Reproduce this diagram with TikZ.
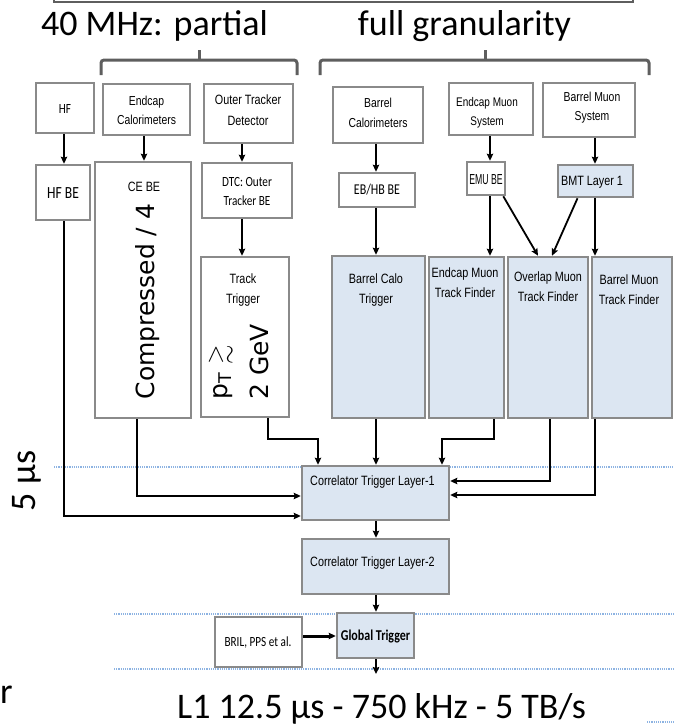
\documentclass[tikz,border=0pt]{standalone}
\usepackage{fontspec}
\usepackage{amssymb}
\usetikzlibrary{arrows.meta,calc}
\setmainfont{Carlito}
\newfontfamily\calibc[FakeStretch=0.8]{Carlito}
\newfontfamily\helvc[FakeStretch=0.8]{Liberation Sans}
\newfontfamily\helvcc[FakeStretch=0.6]{Liberation Sans}
\newfontfamily\dejav{DejaVu Sans}
\definecolor{bordergrey}{HTML}{8A8A8A}
\definecolor{lblue}{HTML}{DCE6F2}
\definecolor{dotblue}{HTML}{8DB3E2}
\definecolor{brgrey}{HTML}{5E5E5E}
\newcommand\mkbox[6]{\node[#6, minimum width={(#4-#2)*1pt}, minimum height={(#5-#3)*1pt}] (#1) at ({(#2+#4)/2},{-(#3+#5)/2}) {};}
\tikzset{
  wbox/.style={draw=bordergrey, line width=2.6pt, fill=white, inner sep=0pt},
  bbox/.style={wbox, fill=lblue},
  arr/.style={draw=black, line width=1.8pt, -{Stealth[length=7pt,width=6.5pt,inset=1pt]}},
  lbl/.style={inner sep=0pt, align=center, font=\helvc\fontsize{13.5}{20}\selectfont},
  lblc/.style={inner sep=0pt, align=center, font=\calibc\fontsize{14}{19}\selectfont},
  big/.style={inner sep=0pt, font=\fontsize{36}{40}\selectfont},
  dotl/.style={draw=dotblue, line width=1.3pt, dash pattern=on 1.2pt off 1pt},
  brk/.style={draw=brgrey, line width=3pt, rounded corners=3pt},
}
\begin{document}
\begin{tikzpicture}[x=1pt,y=1pt]
\useasboundingbox (0,0) rectangle (674,-726);
% top frame remnant
\draw[draw=brgrey, line width=2pt] (54,0) -- (54,-2) -- (633,-2) -- (633,0);
% titles
\node[big, anchor=base] (t40) at (154.5,-35) {40 MHz: partial};
\node[big, anchor=base] (tfull) at (464.5,-35) {full granularity};
% brackets
\draw[brk] (101,-75) -- (101,-60) -- (297,-60) -- (297,-75);
\draw[brk] (199,-60) -- (199,-50);
\draw[brk] (320,-75) -- (320,-60) -- (649,-60) -- (649,-75);
\draw[brk] (485,-60) -- (485,-50);
% dotted lines
\draw[dotl] (54,-467) -- (674,-467);
\draw[dotl] (114,-614) -- (674,-614);
\draw[dotl] (114,-669) -- (674,-669);
\draw[dotl] (647,-722) -- (674,-722);
% row 1
\mkbox{hf}{36}{83}{94}{133}{wbox}
\mkbox{ecal}{103}{84}{190}{135}{wbox}
\mkbox{otd}{204}{84}{293}{143}{wbox}
\mkbox{bcal}{333}{87}{423}{143}{wbox}
\mkbox{emus}{449}{83}{533}{135}{wbox}
\mkbox{bmus}{543}{83}{635}{137}{wbox}
% row 2
\mkbox{hfbe}{36}{165}{90}{220}{wbox}
\mkbox{cebe}{95}{162}{191}{418}{wbox}
\mkbox{dtc}{202}{163}{292}{218}{wbox}
\mkbox{ebhb}{339}{173}{415}{207}{wbox}
\mkbox{emube}{467}{162}{505}{195}{wbox}
\mkbox{bmt}{558}{165}{633}{197}{bbox}
% row 3
\mkbox{track}{201}{257}{289}{417}{wbox}
\mkbox{bct}{332}{256}{425}{418}{bbox}
\mkbox{emtf}{429}{257}{504}{418}{bbox}
\mkbox{omtf}{508}{257}{588}{418}{bbox}
\mkbox{bmtf}{592}{257}{672}{418}{bbox}
% correlators and global
\mkbox{ctl1}{302}{466}{449}{520}{bbox}
\mkbox{ctl2}{302}{539}{449}{594}{bbox}
\mkbox{gt}{337}{613}{414}{658}{bbox}
\mkbox{bril}{215}{617}{302}{667}{wbox}
% labels
\node[lblc] (thf) at (65,-109) {HF};
\node[lbl, font=\helvc\fontsize{13}{19}\selectfont] (tecal) at (146.5,-110.5) {Endcap\\Calorimeters};
\node[lbl, font=\helvc\fontsize{13.5}{21}\selectfont] (totd) at (248,-110.5) {Outer Tracker\\Detector};
\node[lbl, font=\helvc\fontsize{13}{20}\selectfont] (tbcal) at (378,-113) {Barrel\\Calorimeters};
\node[lbl, font=\helvc\fontsize{12.5}{19}\selectfont] (temus) at (487,-112.5) {Endcap Muon\\System};
\node[lbl, font=\helvc\fontsize{13}{19}\selectfont] (tbmus) at (592,-107.5) {Barrel Muon\\System};
\node[lblc, font=\calibc\fontsize{17}{20}\selectfont] (thfbe) at (63,-193) {HF BE};
\node[lbl] (tcebe) at (144,-187) {CE BE};
\node[lblc] (tdtc) at (247,-191.5) {DTC: Outer\\Tracker BE};
\node[lblc, font=\calibc\fontsize{15}{19}\selectfont] (tebhb) at (377,-190) {EB/HB BE};
\node[lbl, font=\helvcc\fontsize{14.5}{19}\selectfont] (temube) at (486,-180) {EMU BE};
\node[lbl, font=\helvc\fontsize{13.5}{19}\selectfont] (tbmt) at (592,-182) {BMT Layer 1};
\node[lbl] (ttrack) at (243,-290) {Track\\Trigger};
\node[lbl] (tbct) at (376,-290) {Barrel Calo\\Trigger};
\node[lbl] (temtf) at (465,-283) {Endcap Muon\\Track Finder};
\node[lbl] (tomtf) at (548,-287) {Overlap Muon\\Track Finder};
\node[lbl] (tbmtf) at (629,-290) {Barrel Muon\\Track Finder};
\node[lbl, anchor=west] (tctl1) at (310,-482) {Correlator Trigger Layer-1};
\node[lbl, anchor=west] (tctl2) at (310,-563) {Correlator Trigger Layer-2};
\node[lblc, font=\calibc\bfseries\fontsize{15}{19}\selectfont] (tgt) at (375.5,-637) {Global Trigger};
\node[lblc] (tbril) at (258,-643) {BRIL, PPS et al.};
% rotated big texts
\node[inner sep=0pt, rotate=90, anchor=base, font=\dejav\fontsize{25}{30}\selectfont] (tcomp) at (154,-301.5) {Compressed / 4};
\node[inner sep=0pt, rotate=90, anchor=base west, align=left, font=\dejav\fontsize{25}{41}\selectfont] (tpt) at (268,-400) {p\textsubscript{T} $\gtrsim$\\2 GeV};
\node[big, rotate=90, anchor=base] (t5us) at (35,-481) {5 µs};
\node[big, anchor=base] (tl1) at (381.5,-718) {L1 12.5 µs - 750 kHz - 5 TB/s};
\node[big, anchor=base west] (tr) at (0,-703) {r};
% helper coordinates
\coordinate (x64) at (64,0);
\coordinate (x144) at (144,0);
\coordinate (x242) at (242,0);
\coordinate (x376) at (376,0);
\coordinate (x490) at (490,0);
\coordinate (x595) at (595,0);
\coordinate (x137) at (137,0);
\coordinate (x268) at (268,0);
\coordinate (x318) at (318,0);
\coordinate (x494) at (494,0);
\coordinate (x442) at (442,0);
\coordinate (x550) at (550,0);
\coordinate (x538) at (538,0);
\coordinate (x552) at (552,0);
\coordinate (y439) at (0,-439);
\coordinate (y516) at (0,-516);
\coordinate (y496) at (0,-496);
\coordinate (y481) at (0,-481);
\coordinate (y495) at (0,-495);
\coordinate (y636) at (0,-636);
\coordinate (l1end) at (376,-674);
% connectors
\draw[arr] (hf.south -| x64) -- (hfbe.north -| x64);
\draw[arr] (ecal.south -| x144) -- (cebe.north -| x144);
\draw[arr] (otd.south -| x242) -- (dtc.north -| x242);
\draw[arr] (dtc.south -| x242) -- (track.north -| x242);
\draw[arr] (bcal.south -| x376) -- (ebhb.north -| x376);
\draw[arr] (ebhb.south -| x376) -- (bct.north -| x376);
\draw[arr] (emus.south -| x490) -- (emube.north -| x490);
\draw[arr] (bmus.south -| x595) -- (bmt.north -| x595);
\draw[arr] (emube.south -| x490) -- (emtf.north -| x490);
\draw[arr] ($(emube.south east)+(-3,0)$) -- (omtf.north -| x538);
\draw[arr] ($(bmt.south)+(-18,0)$) -- (omtf.north -| x552);
\draw[arr] (bmt.south -| x595) -- (bmtf.north -| x595);
\draw[arr] (hfbe.south -| x64) |- (ctl1.west |- y516);
\draw[arr] (cebe.south -| x137) |- (ctl1.west |- y496);
\draw[arr] (track.south -| x268) |- (x318 |- y439) -- (ctl1.north -| x318);
\draw[arr] (bct.south -| x376) -- (ctl1.north -| x376);
\draw[arr] (emtf.south -| x494) |- (x442 |- y439) -- (ctl1.north -| x442);
\draw[arr] (omtf.south -| x550) |- (ctl1.east |- y481);
\draw[arr] (bmtf.south -| x595) |- (ctl1.east |- y495);
\draw[arr] (ctl1.south -| x376) -- (ctl2.north -| x376);
\draw[arr] (ctl2.south -| x376) -- (gt.north -| x376);
\draw[arr, line width=3pt] (bril.east |- y636) -- (gt.west |- y636);
\draw[arr] (gt.south -| x376) -- (l1end);
\end{tikzpicture}
\end{document}
